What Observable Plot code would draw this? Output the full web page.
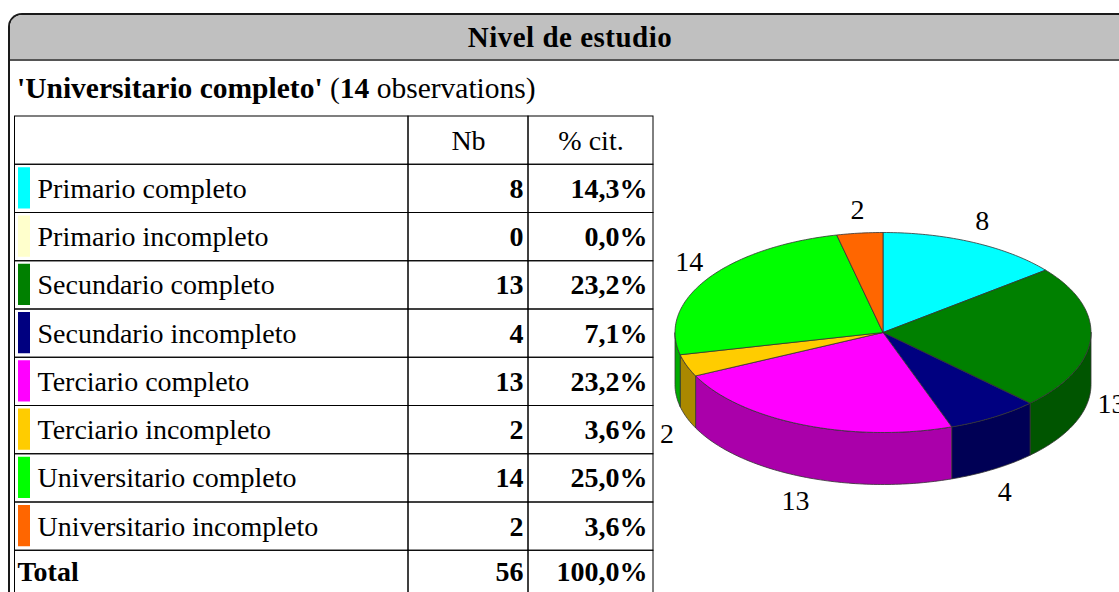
<!DOCTYPE html>
<html><head><meta charset="utf-8">
<script src="https://cdn.jsdelivr.net/npm/d3@7"></script>
<script src="https://cdn.jsdelivr.net/npm/@observablehq/plot@0.6"></script>
<style>
html,body{margin:0;padding:0;background:#fff;}
#wrap{position:relative;width:1119px;height:592px;overflow:hidden;background:#fff;font-family:"Liberation Serif","Times New Roman",serif;color:#000;}
#frame{position:absolute;left:8px;top:13px;width:1200px;height:700px;border-left:2px solid #1a1a1a;border-top:2px solid #1a1a1a;border-top-left-radius:14px;box-sizing:border-box;}
#header{position:absolute;left:10px;top:15px;width:1120px;height:46px;background:#c0c0c0;border-bottom:2px solid #555;border-top-left-radius:12px;box-sizing:border-box;text-align:center;font-weight:bold;font-size:29px;line-height:44px;letter-spacing:0.5px;}
#subtitle{position:absolute;left:17px;top:69px;font-size:29.5px;line-height:38px;white-space:nowrap;}
#table,#pie{position:absolute;left:0;top:0;}
</style></head>
<body><div id="wrap">
<div id="frame"></div>
<div id="header">Nivel de estudio</div>
<div id="subtitle"></div>
<div id="table"></div><div id="pie"></div>
</div>
<script>
// ---- data ----
const categories = ["Primario completo","Primario incompleto","Secundario completo","Secundario incompleto","Terciario completo","Terciario incompleto","Universitario completo","Universitario incompleto"];
const counts = [8,0,13,4,13,2,14,2];
const percents = ["14,3%","0,0%","23,2%","7,1%","23,2%","3,6%","25,0%","3,6%"];
const colors = ["#00ffff","#ffffcc","#008000","#000080","#ff00ff","#ffcc00","#00ff00","#ff6600"];
const headerLabels = ["Nb","% cit."];
const totalLabel = "Total";
const totalCount = 56;
const totalPercent = "100,0%";
const selected = "Universitario completo";
const selectedObs = 14;

// ---- layout (positions / sizes) ----
const FONT = '"Liberation Serif","Times New Roman",serif';
const colEdges = [14.5, 408, 528, 653];
const tableTop = 116, rowH = 48.25;

document.getElementById("subtitle").innerHTML =
  `<b>'${selected}'</b> (<b>${selectedObs}</b> observations)`;

const rowKeys = ["__header", ...categories, totalLabel];
const rows = categories.map((c,i)=>({cat:c, n:counts[i], p:percents[i], swatch:colors[i]}));
const cells = rowKeys.flatMap(r => [0,1,2].map(c => ({row:r, x1:colEdges[c], x2:colEdges[c+1]})));
const headerCells = headerLabels.map((t,i)=>({t, x:(colEdges[i+1]+colEdges[i+2])/2}));

const table = Plot.plot({
  width: 660, height: 592, margin: 0,
  style: {fontFamily: FONT, fontSize: "28px", background: "transparent", overflow: "visible"},
  x: {type: "identity"},
  y: {type: "band", domain: rowKeys, range: [tableTop, tableTop + rowH*rowKeys.length], padding: 0, round: false, axis: null},
  color: {type: "identity"},
  marks: [
    Plot.barX(cells, {x1: "x1", x2: "x2", y: "row", fill: "none", stroke: "#000", strokeWidth: 1}),
    Plot.barX(rows, {x1: () => 18, x2: () => 30, y: "cat", fill: "swatch", insetTop: 3, insetBottom: 4}),
    Plot.text(rows, {x: () => 37, y: "cat", text: "cat", textAnchor: "start", fill: "#000"}),
    Plot.text(rows, {x: () => colEdges[2]-5, y: "cat", text: d => String(d.n), textAnchor: "end", fontWeight: "bold", fill: "#000"}),
    Plot.text(rows, {x: () => colEdges[3]-6, y: "cat", text: "p", textAnchor: "end", fontWeight: "bold", fill: "#000"}),
    Plot.text(headerCells, {x: "x", y: () => "__header", text: "t", fill: "#000"}),
    Plot.text([totalLabel], {x: () => 17, y: () => totalLabel, text: d => d, textAnchor: "start", fontWeight: "bold", fill: "#000", dy: -3}),
    Plot.text([totalCount], {x: () => colEdges[2]-5, y: () => totalLabel, text: d => String(d), textAnchor: "end", fontWeight: "bold", fill: "#000", dy: -3}),
    Plot.text([totalPercent], {x: () => colEdges[3]-6, y: () => totalLabel, text: d => d, textAnchor: "end", fontWeight: "bold", fill: "#000", dy: -3})
  ]
});
document.getElementById("table").appendChild(table);

// ---- 3D pie ----
const depth = 0.52;           // wall height in y-units of the ellipse
const step = Math.PI/180;
const wallColor = c => { const r = d3.rgb(c); return d3.rgb(r.r*2/3, r.g*2/3, r.b*2/3).formatHex(); };
const arcs = d3.pie().sort(null).value(d => d.n)(rows);
function arcPts(a0, a1, dv){
  const n = Math.max(2, Math.ceil((a1-a0)/step));
  return d3.range(n+1).map(i => { const a = a0 + (a1-a0)*i/n; return {u: Math.sin(a), v: -Math.cos(a) + dv}; });
}
const tops = [], walls = [], labels = [];
arcs.forEach((a, i) => {
  if (a.endAngle - a.startAngle <= 0) return;
  const c = colors[i];
  [{u:0,v:0}, ...arcPts(a.startAngle, a.endAngle, 0), {u:0,v:0}].forEach(p => tops.push({...p, key:i, fill:c}));
  const w0 = Math.max(a.startAngle, Math.PI/2), w1 = Math.min(a.endAngle, 3*Math.PI/2);
  if (w1 > w0) {
    const top = arcPts(w0, w1, 0), bot = arcPts(w0, w1, depth).reverse();
    [...top, ...bot, top[0]].forEach(p => walls.push({...p, key:i, fill:wallColor(c)}));
  }
  const m = (a.startAngle + a.endAngle)/2, su = Math.sin(m), sv = -Math.cos(m);
  labels.push({u: 1.1*su, v: 1.12*sv + (sv > 0 ? depth + 0.13 : -0.11), t: String(a.data.n)});
});

const pie = Plot.plot({
  width: 1119, height: 592, margin: 0,
  style: {fontFamily: FONT, fontSize: "28px", background: "transparent", overflow: "visible"},
  x: {domain: [-1, 1], range: [674.5, 1090.5], axis: null},
  y: {domain: [-1, 1], range: [232, 432], axis: null},
  color: {type: "identity"},
  marks: [
    Plot.line(walls, {x: "u", y: "v", z: "key", fill: "fill", stroke: "#333", strokeWidth: 0.8, curve: "linear"}),
    Plot.line(tops, {x: "u", y: "v", z: "key", fill: "fill", stroke: "#333", strokeWidth: 0.8, curve: "linear"}),
    Plot.text(labels, {x: "u", y: "v", text: "t", fill: "#000"})
  ]
});
document.getElementById("pie").appendChild(pie);
</script>
</body></html>
